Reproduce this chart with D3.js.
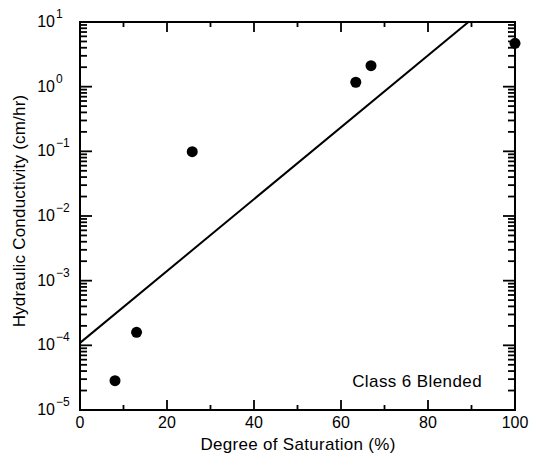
<!DOCTYPE html>
<html><head><meta charset="utf-8">
<script src="https://cdn.jsdelivr.net/npm/d3@7"></script>
<style>
body{margin:0;background:#fff;}
svg{display:block;}
text{font-family:"Liberation Sans",Arial,Helvetica,sans-serif;fill:#000;}
</style></head>
<body>
<svg id="chart" width="536" height="462"></svg>
<script>
// Data
const saturation = [8.05, 13.0, 25.8, 63.4, 66.9, 100];
const conductivity = [2.84e-5, 1.59e-4, 0.0986, 1.17, 2.11, 4.69];
const fitX = [0, 89.3];
const fitY = [1.09e-4, 10];
const xMajorTicks = [0, 20, 40, 60, 80, 100];
const xMinorTicks = [10, 30, 50, 70, 90];
const yExponents = [-5, -4, -3, -2, -1, 0, 1];
const xTitle = "Degree of Saturation (%)";
const yTitle = "Hydraulic Conductivity (cm/hr)";
const annotation = "Class 6 Blended";

const m = {left: 80, right: 515, top: 22, bottom: 410};
const svg = d3.select("#chart");

const x = d3.scaleLinear().domain([0, 100]).range([m.left, m.right]);
const y = d3.scaleLog().domain([1e-5, 10]).range([m.bottom, m.top]);

const yMajor = yExponents.map(e => Math.pow(10, e));
const yMinor = [];
yExponents.slice(0, -1).forEach(e => { for (let k = 2; k <= 9; k++) yMinor.push(k * Math.pow(10, e)); });

// frame
svg.append("rect").attr("x", m.left).attr("y", m.top)
  .attr("width", m.right - m.left).attr("height", m.bottom - m.top)
  .attr("fill", "none").attr("stroke", "#000").attr("stroke-width", 2);

// ticks (inward, on all four sides)
function addTicks(cls, vals, len, horizontal) {
  svg.selectAll("line." + cls).data(vals).join("line").attr("class", cls)
    .attr("stroke", "#000").attr("stroke-width", 1.8)
    .attr("x1", d => horizontal ? x(d) : (cls.endsWith("r") ? m.right : m.left))
    .attr("x2", d => horizontal ? x(d) : (cls.endsWith("r") ? m.right - len : m.left + len))
    .attr("y1", d => horizontal ? (cls.endsWith("t") ? m.top : m.bottom) : y(d))
    .attr("y2", d => horizontal ? (cls.endsWith("t") ? m.top + len : m.bottom - len) : y(d));
}
addTicks("xmajb", xMajorTicks, 10, true);
addTicks("xmajt", xMajorTicks, 10, true);
addTicks("xminb", xMinorTicks, 5, true);
addTicks("xmint", xMinorTicks, 5, true);
addTicks("ymajl", yMajor, 12, false);
addTicks("ymajr", yMajor, 12, false);
addTicks("yminl", yMinor, 7, false);
addTicks("yminr", yMinor, 7, false);

// x tick labels
svg.append("g").selectAll("text").data(xMajorTicks).join("text")
  .attr("x", d => x(d)).attr("y", 428).attr("text-anchor", "middle")
  .attr("font-size", 16).text(d => d3.format("d")(d));

// y tick labels with superscripts
const yl = svg.append("g");
yExponents.forEach(e => {
  const yy = y(Math.pow(10, e));
  yl.append("text").attr("x", 55).attr("y", yy + 5).attr("text-anchor", "end")
    .attr("font-size", 16).text("10");
  yl.append("text").attr("x", 56).attr("y", yy - 4).attr("text-anchor", "start")
    .attr("font-size", 12).text(e < 0 ? "\u2212" + Math.abs(e) : String(e));
});

// clip
svg.append("clipPath").attr("id", "clip").append("rect")
  .attr("x", m.left).attr("y", m.top).attr("width", m.right - m.left).attr("height", m.bottom - m.top);

// fit line
const line = d3.line().x(d => x(d[0])).y(d => y(d[1]));
svg.append("path").datum(fitX.map((v, i) => [v, fitY[i]]))
  .attr("d", line).attr("fill", "none").attr("stroke", "#000").attr("stroke-width", 2)
  .attr("clip-path", "url(#clip)");

// points
svg.append("g").selectAll("circle").data(saturation.map((v, i) => [v, conductivity[i]]))
  .join("circle").attr("cx", d => x(d[0])).attr("cy", d => y(d[1])).attr("r", 5.5).attr("fill", "#000");

// titles
svg.append("text").attr("x", 298).attr("y", 450).attr("text-anchor", "middle")
  .attr("font-size", 17).attr("letter-spacing", 0.3).text(xTitle);
svg.append("text").attr("transform", `translate(25,211) rotate(-90)`)
  .attr("text-anchor", "middle").attr("font-size", 17).attr("letter-spacing", 0.2).text(yTitle);
svg.append("text").attr("x", 482).attr("y", 387).attr("text-anchor", "end")
  .attr("font-size", 17).attr("letter-spacing", 0.4).text(annotation);
</script>
</body></html>
